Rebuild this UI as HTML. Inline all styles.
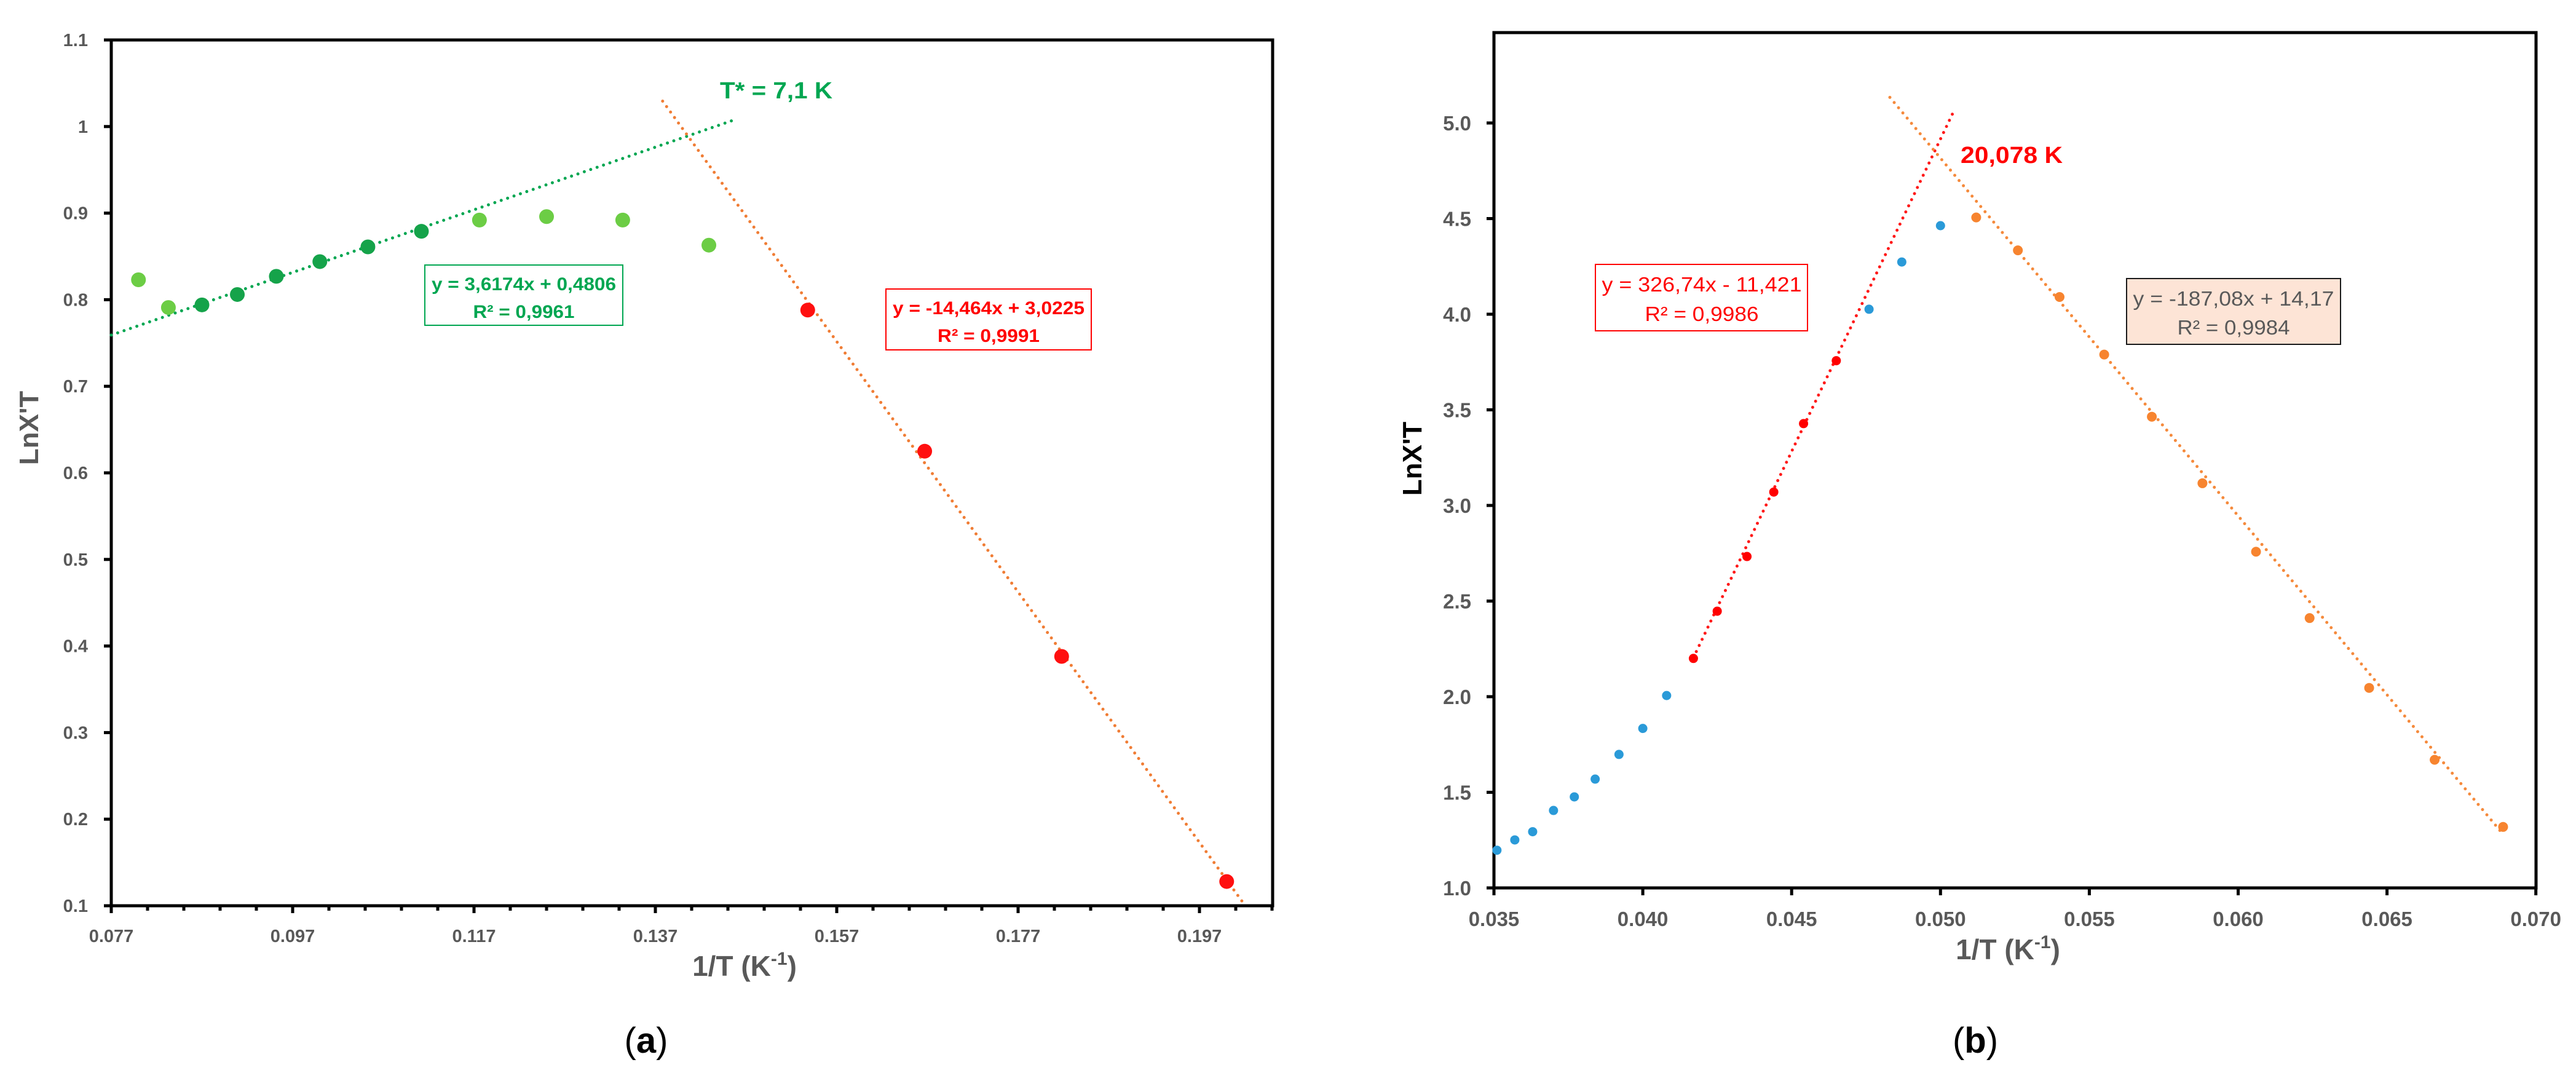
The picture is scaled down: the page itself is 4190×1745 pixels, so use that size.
<!DOCTYPE html>
<html><head><meta charset="utf-8"><style>
html,body{margin:0;padding:0;background:#fff;}
svg{display:block;}
text{font-family:"Liberation Sans",sans-serif;}
</style></head><body>
<svg id="fig" width="4190" height="1745" viewBox="0 0 4190 1745" xmlns="http://www.w3.org/2000/svg">
<rect width="4190" height="1745" fill="#fff"/>
<g id="ga"></g>
<g id="gb"></g>
</svg>
<script>
// ---- Chart (a) data ----
const aLightX = [0.0800, 0.0833, 0.1176, 0.1250, 0.1334, 0.1429];
const aLightY = [0.823, 0.791, 0.892, 0.896, 0.892, 0.863];
const aDarkX = [0.0870, 0.0909, 0.0952, 0.1000, 0.1053, 0.1112];
const aDarkY = [0.794, 0.806, 0.827, 0.844, 0.861, 0.879];
const aRedX = [0.1538, 0.1667, 0.1818, 0.2000];
const aRedY = [0.788, 0.625, 0.388, 0.128];
const aYTicks = [0.1,0.2,0.3,0.4,0.5,0.6,0.7,0.8,0.9,1,1.1];
const aYTickLabels = ["0.1","0.2","0.3","0.4","0.5","0.6","0.7","0.8","0.9","1","1.1"];
const aXTicks = [0.077,0.097,0.117,0.137,0.157,0.177,0.197];
const aXTickLabels = ["0.077","0.097","0.117","0.137","0.157","0.177","0.197"];
const aFitGreen = [3.6174, 0.4806];
const aFitGreenRange = [0.077, 0.146];
const aFitOrange = [-14.464, 3.0225];
const aFitOrangeRange = [0.1378, 0.2017];
// ---- Chart (b) data ----
const bBlueX = [0.0351,0.0357,0.0363,0.0370,0.0377,0.0384,0.0392,0.0400,0.0408,0.0476,0.0487,0.0500];
const bBlueY = [1.197,1.251,1.294,1.405,1.476,1.569,1.698,1.834,2.006,4.026,4.273,4.463];
const bRedX = [0.0417,0.0425,0.0435,0.0444,0.0454,0.0465];
const bRedY = [2.200,2.447,2.733,3.070,3.428,3.757];
const bOrangeX = [0.0512,0.0526,0.0540,0.0555,0.0571,0.0588,0.0606,0.0624,0.0644,0.0666,0.0689];
const bOrangeY = [4.506,4.334,4.090,3.789,3.464,3.116,2.758,2.411,2.046,1.670,1.319];
const bYTicks = [1.0,1.5,2.0,2.5,3.0,3.5,4.0,4.5,5.0];
const bYTickLabels = ["1.0","1.5","2.0","2.5","3.0","3.5","4.0","4.5","5.0"];
const bXTicks = [0.035,0.040,0.045,0.050,0.055,0.060,0.065,0.070];
const bXTickLabels = ["0.035","0.040","0.045","0.050","0.055","0.060","0.065","0.070"];
const bFitRed = [326.74, -11.421];
const bFitRedRange = [0.0417, 0.0504];
const bFitOrange = [-187.08, 14.17];
const bFitOrangeRange = [0.0483, 0.0689];

const NS = "http://www.w3.org/2000/svg";
function mk(parent, tag, attrs, txt){
  const e = document.createElementNS(NS, tag);
  for (const k in attrs) e.setAttribute(k, attrs[k]);
  if (txt !== undefined) e.textContent = txt;
  parent.appendChild(e);
  return e;
}

// ---- Chart (a) ----
const ga = document.getElementById('ga');
const ax = v => 181 + (v - 0.077) / 0.02 * 295;
const ay = v => 1473 - (v - 0.1) / 0.1 * 140.8;
let e;
e = mk(ga,'rect',{x:181,y:65,width:1889,height:1408,fill:'none',stroke:'#000','stroke-width':5});
 
aYTicks.forEach((v,i)=>{
  e = mk(ga,'line',{x1:169,x2:181,y1:ay(v),y2:ay(v),stroke:'#000','stroke-width':5});
   
  e = mk(ga,'text',{x:143,y:ay(v)+10,'text-anchor':'end','font-size':29,'font-weight':'bold',fill:'#595959'},aYTickLabels[i]);
   
});
for (let v=0.077; v<0.2051; v+=0.004){
  const major = Math.abs(((v-0.077)/0.02) - Math.round((v-0.077)/0.02))<1e-6;
  e = mk(ga,'line',{x1:ax(v),x2:ax(v),y1:1473,y2:1473+(major?12:8),stroke:'#000','stroke-width':5});
   
}
aXTicks.forEach((v,i)=>{
  e = mk(ga,'text',{x:ax(v),y:1532,'text-anchor':'middle','font-size':29,'font-weight':'bold',fill:'#595959'},aXTickLabels[i]);
   
});
e = mk(ga,'text',{x:62,y:696,'text-anchor':'middle','font-size':44,'font-weight':'bold',fill:'#595959',transform:'rotate(-90 62 696)'},"LnX'T");
 
e = mk(ga,'text',{x:1211,y:1587,'text-anchor':'middle','font-size':46,'font-weight':'bold',fill:'#595959'});
 
e.innerHTML = '1/T (K<tspan font-size="30" dy="-18">-1</tspan><tspan dy="18">)</tspan>';
// fits
function fitLine(g, f, r, X, Y, color, name){
  const l = mk(g,'line',{x1:X(r[0]),y1:Y(f[0]*r[0]+f[1]),x2:X(r[1]),y2:Y(f[0]*r[1]+f[1]),stroke:color,'stroke-width':5,'stroke-dasharray':'0 11','stroke-linecap':'round'});
   
}
fitLine(ga, aFitGreen, aFitGreenRange, ax, ay, '#00a651', 'trendline-green-a');
fitLine(ga, aFitOrange, aFitOrangeRange, ax, ay, '#f07d35', 'trendline-orange-a');
function pts(g, xs, ys, X, Y, r, color, name){
  xs.forEach((v,i)=>{
    const c = mk(g,'ellipse',{cx:X(v),cy:Y(ys[i]),rx:r,ry:r,fill:color});
     
  });
}
pts(ga, aLightX, aLightY, ax, ay, 12, '#6ccd45', 'point-light-green');
pts(ga, aDarkX, aDarkY, ax, ay, 12, '#15a34a', 'point-dark-green');
pts(ga, aRedX, aRedY, ax, ay, 12, '#ff1010', 'point-red-a');
e = mk(ga,'rect',{x:691,y:431,width:322,height:98,fill:'#fff',stroke:'#00a651','stroke-width':2});
 
e = mk(ga,'text',{x:852,y:472,'text-anchor':'middle','font-size':30,'font-weight':'bold',fill:'#00a651',textLength:300,lengthAdjust:'spacingAndGlyphs'},'y = 3,6174x + 0,4806');
 
e = mk(ga,'text',{x:852,y:517,'text-anchor':'middle','font-size':30,'font-weight':'bold',fill:'#00a651',textLength:165,lengthAdjust:'spacingAndGlyphs'},'R² = 0,9961');
 
e = mk(ga,'rect',{x:1441,y:470,width:334,height:99,fill:'#fff',stroke:'#ff0000','stroke-width':2});
 
e = mk(ga,'text',{x:1608,y:511,'text-anchor':'middle','font-size':30,'font-weight':'bold',fill:'#ff0000',textLength:312,lengthAdjust:'spacingAndGlyphs'},'y = -14,464x + 3,0225');
 
e = mk(ga,'text',{x:1608,y:556,'text-anchor':'middle','font-size':30,'font-weight':'bold',fill:'#ff0000',textLength:166,lengthAdjust:'spacingAndGlyphs'},'R² = 0,9991');
 
e = mk(ga,'text',{x:1171,y:160,'font-size':38,'font-weight':'bold',fill:'#00a651',textLength:183,lengthAdjust:'spacingAndGlyphs'},'T* = 7,1 K');
 
e = mk(ga,'text',{x:1051,y:1712,'text-anchor':'middle','font-size':58,fill:'#000','font-family':'Liberation Serif, serif'});
 
e.innerHTML = '(<tspan font-weight="bold">a</tspan>)';

// ---- Chart (b) ----
const gb = document.getElementById('gb');
const bx = v => 2430 + (v - 0.035) / 0.005 * 242.1;
const by = v => 1444 - (v - 1.0) / 0.5 * 155.5;
e = mk(gb,'rect',{x:2430,y:53,width:1695,height:1391,fill:'none',stroke:'#000','stroke-width':5});
 
bYTicks.forEach((v,i)=>{
  e = mk(gb,'line',{x1:2418,x2:2430,y1:by(v),y2:by(v),stroke:'#000','stroke-width':5});
   
  e = mk(gb,'text',{x:2393,y:by(v)+12,'text-anchor':'end','font-size':33,'font-weight':'bold',fill:'#595959'},bYTickLabels[i]);
   
});
bXTicks.forEach((v,i)=>{
  e = mk(gb,'line',{x1:bx(v),x2:bx(v),y1:1444,y2:1456,stroke:'#000','stroke-width':5});
   
  e = mk(gb,'text',{x:bx(v),y:1506,'text-anchor':'middle','font-size':33,'font-weight':'bold',fill:'#595959'},bXTickLabels[i]);
   
});
e = mk(gb,'text',{x:2312,y:746,'text-anchor':'middle','font-size':44,'font-weight':'bold',fill:'#000',transform:'rotate(-90 2312 746)'},"LnX'T");
 
e = mk(gb,'text',{x:3266,y:1560,'text-anchor':'middle','font-size':46,'font-weight':'bold',fill:'#595959'});
 
e.innerHTML = '1/T (K<tspan font-size="30" dy="-18">-1</tspan><tspan dy="18">)</tspan>';
fitLine(gb, bFitRed, bFitRedRange, bx, by, '#ff1a1a', 'trendline-red-b');
fitLine(gb, bFitOrange, bFitOrangeRange, bx, by, '#f58a3c', 'trendline-orange-b');
pts(gb, bBlueX, bBlueY, bx, by, 7.5, '#2a9ad8', 'point-blue');
pts(gb, bRedX, bRedY, bx, by, 7.5, '#ff0000', 'point-red-b');
pts(gb, bOrangeX, bOrangeY, bx, by, 8, '#f7842f', 'point-orange');
e = mk(gb,'rect',{x:2595,y:430,width:345,height:108,fill:'#fff',stroke:'#ff0000','stroke-width':2});
 
e = mk(gb,'text',{x:2768,y:474,'text-anchor':'middle','font-size':33,fill:'#ff0000',textLength:325,lengthAdjust:'spacingAndGlyphs'},'y = 326,74x - 11,421');
 
e = mk(gb,'text',{x:2768,y:522,'text-anchor':'middle','font-size':33,fill:'#ff0000',textLength:185,lengthAdjust:'spacingAndGlyphs'},'R² = 0,9986');
 
e = mk(gb,'rect',{x:3459,y:453,width:348,height:107,fill:'#fde4d6',stroke:'#1a1a1a','stroke-width':2});
 
e = mk(gb,'text',{x:3633,y:497,'text-anchor':'middle','font-size':33,fill:'#595959',textLength:327,lengthAdjust:'spacingAndGlyphs'},'y = -187,08x + 14,17');
 
e = mk(gb,'text',{x:3633,y:544,'text-anchor':'middle','font-size':33,fill:'#595959',textLength:183,lengthAdjust:'spacingAndGlyphs'},'R² = 0,9984');
 
e = mk(gb,'text',{x:3189,y:265,'font-size':38,'font-weight':'bold',fill:'#ff0000',textLength:166,lengthAdjust:'spacingAndGlyphs'},'20,078 K');
 
e = mk(gb,'text',{x:3213,y:1712,'text-anchor':'middle','font-size':58,fill:'#000','font-family':'Liberation Serif, serif'});
 
e.innerHTML = '(<tspan font-weight="bold">b</tspan>)';
</script>
</body></html>
